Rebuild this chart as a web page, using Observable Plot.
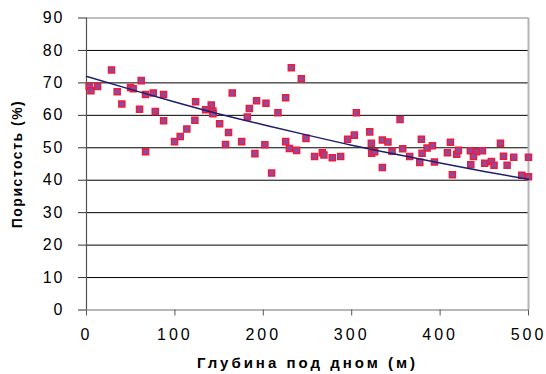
<!DOCTYPE html>
<html>
<head>
<meta charset="utf-8">
<script src="https://cdn.jsdelivr.net/npm/d3@7"></script>
<script src="https://cdn.jsdelivr.net/npm/@observablehq/plot@0.6"></script>
<style>
  html, body { margin: 0; padding: 0; background: #fff; }
  #chart svg { display: block; }
  g[aria-label="y-axis tick label"] text { letter-spacing: 2px; }
  g[aria-label="x-axis tick label"] text { letter-spacing: 3px; }
  g[aria-label="y-axis label"] { font-weight: bold; font-size: 14px; letter-spacing: 1.5px; }
  g[aria-label="x-axis label"] { font-weight: bold; font-size: 15px; letter-spacing: 3px; }
</style>
</head>
<body>
<div id="chart"></div>
<script>
// Depth below seafloor (m) and porosity (%) of samples
const depth = [3, 5, 12.5, 28.3, 34.7, 40, 49.8, 52.8, 61.9, 66.8, 75.5, 87.2, 60, 77.8, 87.2, 66.8,
  123.4, 122.6, 113.5, 106, 99.6, 141.1, 134.7, 143, 143, 164.9, 150.6, 160.7, 157.3, 175.5, 190.5,
  181.9, 184.2, 192.4, 203, 201.8, 209.4, 216.6, 225.3, 231.7, 243, 225.3, 229.5, 237.7, 248.3,
  258, 266.8, 268.6, 278, 287.5, 295.4, 303, 305.3, 320.4, 322.2, 322.6, 326, 334.7, 341, 334.7,
  354.7, 345.6, 357.7, 365.6, 378.8, 379.6, 377, 385.3, 391.3, 393.6, 411.7, 408.3, 413.9, 418.8,
  420.7, 434.3, 441.1, 447.9, 437.7, 434.7, 450.5, 458, 461, 468.3, 471.7, 475.8, 483.3, 492.4, 500, 500];
const porosity = [68.9, 67.6, 68.9, 74.0, 67.3, 63.5, 68.6, 68.2, 70.7, 66.4, 66.9, 66.4, 61.9, 61.2, 58.3, 48.8,
  64.2, 58.5, 55.8, 53.5, 51.9, 63.2, 61.7, 61.3, 60.5, 66.9, 57.4, 54.7, 51.0, 51.9, 48.2,
  59.5, 62.1, 64.5, 63.7, 50.9, 42.2, 60.8, 65.4, 74.7, 71.3, 51.9, 49.8, 49.2, 52.9,
  47.3, 48.5, 47.8, 46.9, 47.3, 52.6, 53.9, 60.8, 54.9, 51.4, 48.3, 48.8, 52.4, 51.8, 43.9,
  58.7, 48.9, 49.7, 47.3, 52.6, 48.3, 45.5, 49.9, 50.6, 45.6, 51.7, 48.5, 41.7, 48.0,
  49.2, 49.1, 48.8, 49.1, 47.3, 44.8, 45.2, 45.8, 44.6, 51.4, 47.4, 44.6, 47.1, 41.5, 41.1, 47.1];

// Trend line
const trendDepth = [0, 50, 100, 150, 200, 250, 300, 350, 400, 450, 500];
const trendPorosity = [72.0, 68.0, 64.1, 60.4, 57.1, 53.9, 50.8, 48.0, 45.3, 42.7, 40.3];

const xTicks = [0, 100, 200, 300, 400, 500];
const yTicks = [0, 10, 20, 30, 40, 50, 60, 70, 80, 90];
const gridLines = [10, 20, 30, 40, 50, 60, 70, 80];

const samples = depth.map((d, i) => ({depth: d, porosity: porosity[i]}));
const trend = trendDepth.map((d, i) => ({depth: d, porosity: trendPorosity[i]}));

const chart = Plot.plot({
  width: 546,
  height: 374,
  marginLeft: 86,
  marginRight: 18,
  marginTop: 17.5,
  marginBottom: 64.5,
  style: {fontFamily: "'Liberation Sans', Arial, sans-serif", fontSize: "16px", color: "#000", background: "#fff"},
  x: {domain: [0, 500]},
  y: {domain: [0, 90]},
  marks: [
    Plot.ruleY(gridLines, {stroke: "#000", strokeWidth: 1}),
    Plot.ruleY([90], {stroke: "#808080", strokeWidth: 1.2}),
    Plot.ruleX([500], {stroke: "#b4b4b4", strokeWidth: 2}),
    Plot.ruleY([0], {stroke: "#707070", strokeWidth: 1.2}),
    Plot.ruleX([0], {stroke: "#555", strokeWidth: 1.2}),
    Plot.axisY({ticks: yTicks, tickSize: 8, tickPadding: 14, stroke: "#333",
      label: "Пористость (%)", labelAnchor: "center", labelArrow: "none", labelOffset: 74}),
    Plot.axisX({ticks: xTicks, tickSize: 6, tickPadding: 13, stroke: "#555",
      label: "Глубина под дном (м)", labelAnchor: "center", labelArrow: "none", labelOffset: 58}),
    Plot.dot(samples, {x: "depth", y: "porosity", symbol: "square", r: 3.4,
      fill: "#8f4aa0", stroke: "#ee1c3c", strokeWidth: 1.5}),
    Plot.line(trend, {x: "depth", y: "porosity", curve: "natural", stroke: "#1c1f6b", strokeWidth: 1.5})
  ]
});
document.getElementById("chart").append(chart);
</script>
</body>
</html>
